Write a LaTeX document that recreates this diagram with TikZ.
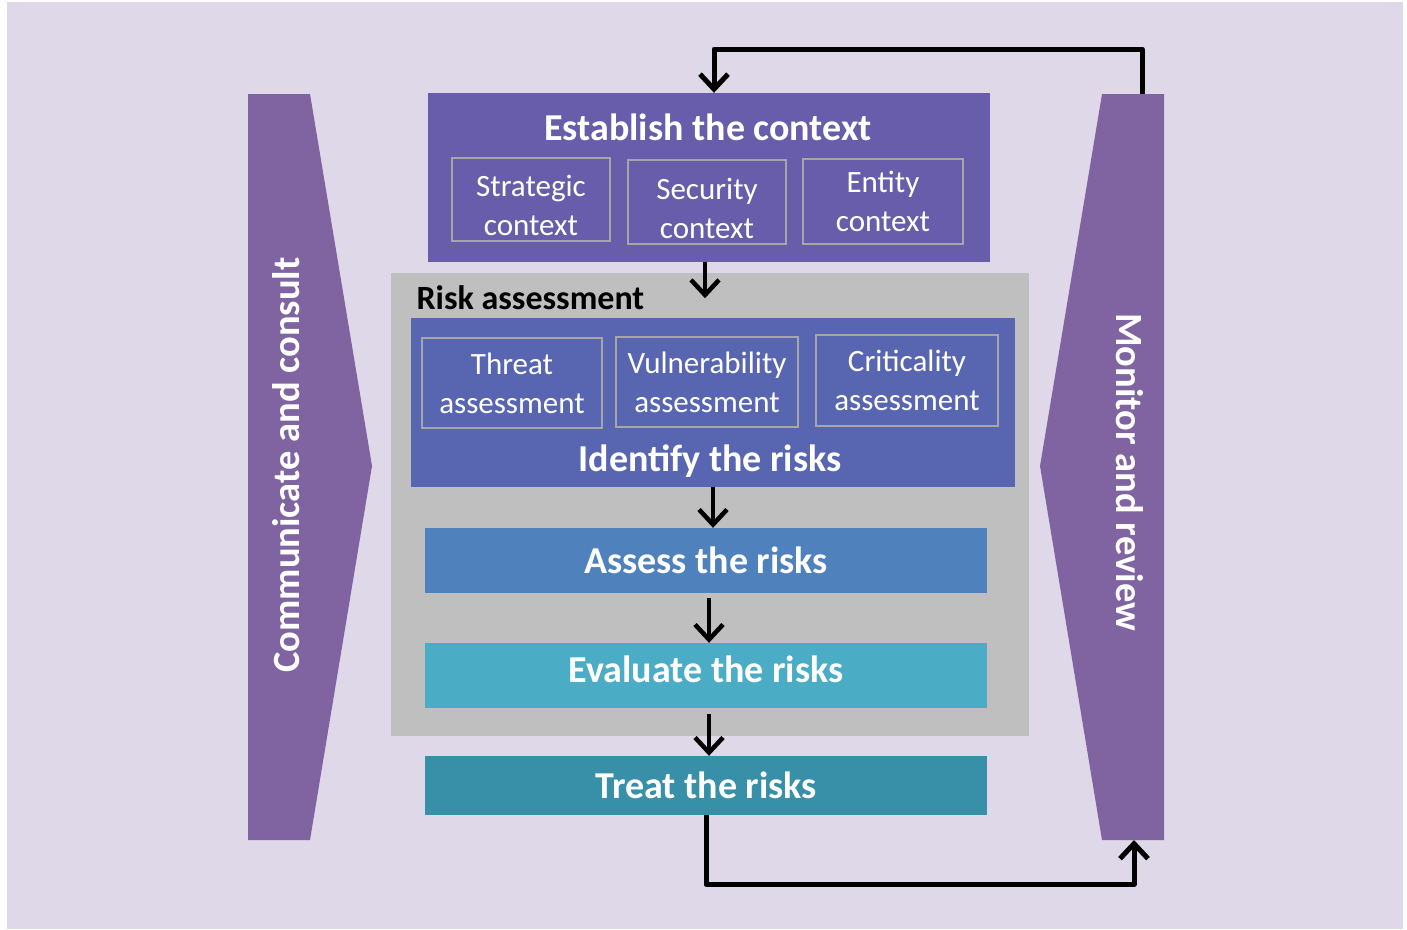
\documentclass[tikz,border=0pt]{standalone}
\usepackage{fontspec}
\setmainfont{Carlito}
\usepackage{tikz}
\usetikzlibrary{arrows.meta}
\usepackage{color}
\definecolor{backdrop}{HTML}{DFD8E8}
\definecolor{side}{HTML}{8064A2}
\definecolor{context}{HTML}{675DAA}
\definecolor{identify}{HTML}{5866B2}
\definecolor{riskgray}{HTML}{BFBFBF}
\definecolor{assess}{HTML}{4F81BD}
\definecolor{evaluate}{HTML}{4BACC6}
\definecolor{treat}{HTML}{3790A8}
\definecolor{frame}{HTML}{A6A6A6}
\newcommand{\lift}{\rule{0pt}{34pt}}

\begin{document}
\begin{tikzpicture}[x=1pt,y=-1pt]
    \tikzstyle{panel}=[rectangle, inner sep=0pt, text=white
    , font=\bfseries\fontsize{38}{44}\selectfont]
    \tikzstyle{subbox}=[rectangle, draw=frame, line width=2pt, inner sep=0pt
    , text=white, align=center, font=\fontsize{31}{39}\selectfont]
    \tikzstyle{sidetext}=[text=white, font=\bfseries\fontsize{38.5}{46}\selectfont]
    \tikzstyle{flow}=[line width=4.5pt, -{Straight Barb[length=15pt,width=28pt]}]
    \tikzstyle{loop}=[line width=5pt, line join=round
    , -{Straight Barb[length=15pt,width=28pt]}]
    \useasboundingbox (0,0) rectangle (1407,929);
    % Background
    \fill[backdrop] (7,2) rectangle (1403,929);
    % Side chevrons
    \fill[side] (248,94) -- (310,94) -- (372,466) -- (310,840) -- (248,840) -- cycle;
    \fill[side] (1164,94) -- (1102,94) -- (1040,466) -- (1102,840) -- (1164,840) -- cycle;
    \node[sidetext, rotate=90] (comm) at (286,465) {Communicate and consult};
    \node[sidetext, rotate=-90] (monitor) at (1130,472) {Monitor and review};
    \coordinate (montop) at (1142,94);
    \coordinate (monbot) at (1134,840);
    % Establish the context
    \node[panel, fill=context, minimum width=562pt, minimum height=169pt] (est) at (709,177.5) {};
    \node[panel] (esttitle) at (708,127) {Establish the context};
    \node[subbox, minimum width=158pt, minimum height=83pt] (strat) at (531,199.5) {\lift Strategic\\context};
    \node[subbox, minimum width=158pt, minimum height=84pt] (secur) at (707,202) {\lift Security\\context};
    \node[subbox, minimum width=160pt, minimum height=85pt] (entity) at (883,201.5) {Entity\\context};
    % Risk assessment
    \node[panel, fill=riskgray, minimum width=638pt, minimum height=463pt] (risk) at (710,504.5) {};
    \node[anchor=west, font=\bfseries\fontsize{34}{40}\selectfont] (risktitle) at (413,298) {Risk assessment};
    \node[panel, fill=identify, minimum width=604pt, minimum height=169pt] (ident) at (713,402.5) {};
    \node[panel] (identtitle) at (710,461) {Identify the risks};
    \node[subbox, minimum width=180pt, minimum height=90pt] (threat) at (512,383) {Threat\\assessment};
    \node[subbox, minimum width=182pt, minimum height=90pt] (vuln) at (707,382) {Vulnerability\\assessment};
    \node[subbox, minimum width=182pt, minimum height=91pt] (crit) at (907,380.5) {Criticality\\assessment};
    \node[panel, fill=assess, minimum width=562pt, minimum height=65pt] (assess) at (706,560.5) {Assess the risks};
    \node[panel, fill=evaluate, minimum width=562pt, minimum height=65pt, text depth=12pt] (eval) at (706,675.5) {Evaluate the risks};
    % Treat the risks
    \node[panel, fill=treat, minimum width=562pt, minimum height=59pt] (treat) at (706,785.5) {Treat the risks};
    % Arrows
    \draw[flow] ([xshift=-4pt]est.south) -- ++(0,36);
    \draw[flow] (ident.south) -- (ident.south |- assess.north);
    \draw[flow, shorten <=5pt] ([xshift=3pt]assess.south) -- ([xshift=3pt]eval.north);
    \draw[flow, shorten <=6pt] ([xshift=3pt]eval.south) -- ([xshift=3pt]treat.north);
    \draw[loop] (treat.south) -- ++(0,69) -| (monbot);
    \draw[loop] (montop) -- ++(0,-45) -| ([xshift=5pt]est.north);
\end{tikzpicture}
\end{document}
